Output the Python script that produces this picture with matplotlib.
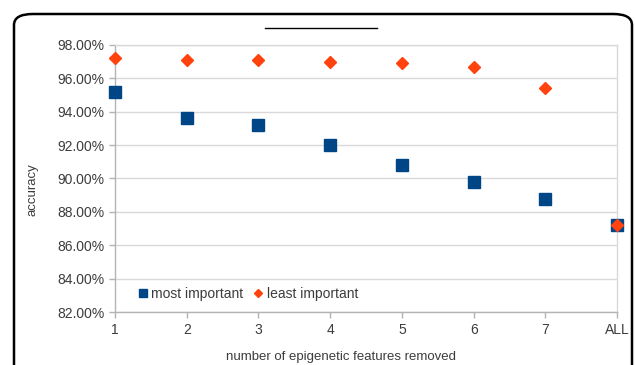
import matplotlib.pyplot as plt
from matplotlib.lines import Line2D
from matplotlib.patches import FancyBboxPatch
from matplotlib.ticker import FuncFormatter

categories = ['1', '2', '3', '4', '5', '6', '7', 'ALL']
most_important = [95.2, 93.6, 93.2, 92.0, 90.8, 89.8, 88.8, 87.2]
least_important = [97.2, 97.1, 97.1, 97.0, 96.9, 96.7, 95.4, 87.2]
y_ticks = [82, 84, 86, 88, 90, 92, 94, 96, 98]

plt.rcParams['font.family'] = ['Liberation Sans', 'DejaVu Sans']
text_col = '#3c3c3c'
grid_col = '#d9d9d9'

fig = plt.figure(figsize=(6.35, 3.65), dpi=100)
ax = fig.add_axes([0.181, 0.145, 0.791, 0.732])

x = list(range(len(categories)))
ax.plot(x, most_important, 's', color='#004586', markersize=8.5, clip_on=False,
        zorder=3, label='most important')
ax.plot(x, least_important, 'D', color='#ff420e', markersize=6, clip_on=False,
        zorder=4, label='least important')

ax.set_xlim(0, len(categories) - 1)
ax.set_ylim(82, 98)
ax.set_yticks(y_ticks)
ax.yaxis.set_major_formatter(FuncFormatter(lambda v, p: '{:.2f}%'.format(v)))
ax.set_xticks(x)
ax.set_xticklabels(categories)
ax.grid(axis='y', color=grid_col, linewidth=1)
for s in ax.spines.values():
    s.set_color(grid_col)
    s.set_linewidth(1)
ax.spines['left'].set_color('#b3b3b3')
ax.spines['bottom'].set_color('#b3b3b3')
ax.tick_params(axis='both', colors='#b3b3b3', labelcolor=text_col, labelsize=10,
               length=4, width=1)
ax.tick_params(axis='x', pad=4)

ax.set_ylabel('accuracy', fontsize=9.5, color=text_col)
ax.yaxis.set_label_coords(-0.153, 0.46)
ax.set_xlabel('number of epigenetic features removed', fontsize=9.5,
              color=text_col)
ax.xaxis.set_label_coords(0.45, -0.145)

leg = ax.legend(loc='lower left', bbox_to_anchor=(0.022, -0.006), ncol=2, frameon=False,
                fontsize=10, handlelength=0.6, handletextpad=0.3, columnspacing=0.8,
                markerscale=0.75)
for t in leg.get_texts():
    t.set_color(text_col)

# empty title underline and rounded frame
fig.add_artist(Line2D([265 / 635, 377 / 635], [1 - 28 / 365, 1 - 28 / 365],
                      color='black', linewidth=1))
fig.add_artist(FancyBboxPatch((14 / 635, -0.2), (632 - 14) / 635, 1.2 - 14 / 365,
                              boxstyle='round,pad=0,rounding_size=0.03',
                              transform=fig.transFigure, fill=False,
                              edgecolor='black', linewidth=1.8))

fig.savefig('out.png', dpi=100)
